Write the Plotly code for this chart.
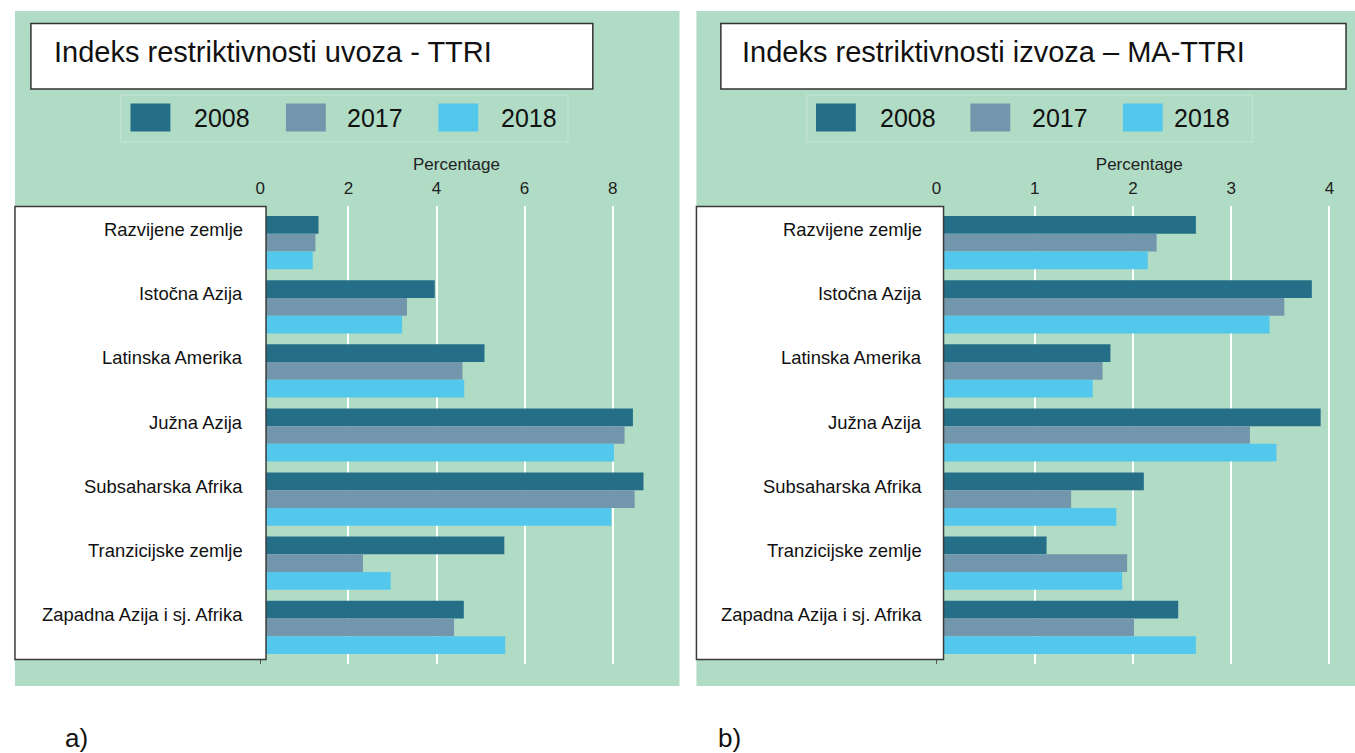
import plotly.graph_objects as go

W, H = 1355, 753

categories = ["Razvijene zemlje", "Istočna Azija", "Latinska Amerika", "Južna Azija",
              "Subsaharska Afrika", "Tranzicijske zemlje", "Zapadna Azija i sj. Afrika"]
years = ["2008", "2017", "2018"]
colors = ["#246e87", "#7296ab", "#54c8ec"]

ttri_2008 = [1.32, 3.96, 5.09, 8.46, 8.70, 5.54, 4.62]
ttri_2017 = [1.25, 3.33, 4.59, 8.27, 8.50, 2.33, 4.40]
ttri_2018 = [1.19, 3.22, 4.63, 8.03, 7.97, 2.96, 5.56]

mattri_2008 = [2.64, 3.82, 1.77, 3.91, 2.11, 1.12, 2.46]
mattri_2017 = [2.24, 3.54, 1.69, 3.19, 1.37, 1.94, 2.01]
mattri_2018 = [2.15, 3.39, 1.59, 3.46, 1.83, 1.89, 2.64]

ttri_ticks = [0, 2, 4, 6, 8]
mattri_ticks = [0, 1, 2, 3, 4]

title_a = "Indeks restriktivnosti uvoza - TTRI"
title_b = "Indeks restriktivnosti izvoza – MA-TTRI"
axis_title = "Percentage"
panel_labels = ["a)", "b)"]

FONT = "Arial, Liberation Sans, sans-serif"
GREEN = "#b0dbc5"


def px(x):
    return x / W


def py(y):
    return 1 - y / H


fig = go.Figure()

left_series = [ttri_2008, ttri_2017, ttri_2018]
right_series = [mattri_2008, mattri_2017, mattri_2018]
for vals, name, col in zip(left_series, years, colors):
    fig.add_trace(go.Bar(y=categories, x=vals, name=name, orientation="h",
                         marker=dict(color=col, line=dict(width=0)),
                         xaxis="x", yaxis="y", showlegend=False))
for vals, name, col in zip(right_series, years, colors):
    fig.add_trace(go.Bar(y=categories, x=vals, name=name, orientation="h",
                         marker=dict(color=col, line=dict(width=0)),
                         xaxis="x2", yaxis="y2", showlegend=False))

ydom = [py(664), py(206)]
yrange = [len(categories) - 1 + 0.572, -0.572]

common_x = dict(side="top", showgrid=True, gridcolor="white", gridwidth=2,
                zeroline=True, zerolinecolor="#555555", zerolinewidth=1,
                showline=False, ticks="outside", ticklen=4, tickcolor="rgba(0,0,0,0)",
                tickfont=dict(size=17, color="#222222", family=FONT),
                title=dict(text=axis_title, font=dict(size=17, color="#222222", family=FONT),
                           standoff=4))
common_y = dict(type="category", categoryorder="array", categoryarray=categories,
                range=yrange, showticklabels=False, showgrid=False, zeroline=False,
                showline=False, ticks="", domain=ydom)

fig.update_layout(
    width=W, height=H,
    margin=dict(l=0, r=0, t=0, b=0),
    paper_bgcolor="white",
    plot_bgcolor="rgba(0,0,0,0)",
    barmode="group", bargap=0.17, bargroupgap=0,
    showlegend=False,
    font=dict(family=FONT, color="#222222"),
    xaxis=dict(domain=[px(256.3), px(650)], range=[0, (650 - 256.3) / 44.2],
               tickvals=ttri_ticks, anchor="y", **common_x),
    yaxis=dict(anchor="x", **common_y),
    xaxis2=dict(domain=[px(935), px(1342)], range=[0, (1342 - 935) / 98.6],
                tickvals=mattri_ticks, anchor="y2", **common_x),
    yaxis2=dict(anchor="x2", **common_y),
)

shapes = []
annotations = []

panels = [
    dict(bg=(10, 677), title=title_a, tbox=(26, 590), ttx=47, legbox=(116, 565),
         sw=[126, 282, 435], tx=[188, 341, 496], lbox=(10, 262), lab_x=241,
         yref="y", plab=(58, panel_labels[0])),
    dict(bg=(694, 1355), title=title_b, tbox=(718.5, 1346), ttx=738, legbox=(805, 1252),
         sw=[814, 969, 1122], tx=[876, 1029, 1171], lbox=(694, 942), lab_x=922,
         yref="y2", plab=(714, panel_labels[1])),
]

for p in panels:
    shapes.append(dict(type="rect", xref="paper", yref="paper",
                       x0=px(p["bg"][0]), x1=px(p["bg"][1]), y0=py(686), y1=py(11),
                       fillcolor=GREEN, line=dict(width=0), layer="below"))
    shapes.append(dict(type="rect", xref="paper", yref="paper",
                       x0=px(p["tbox"][0]), x1=px(p["tbox"][1]), y0=py(89), y1=py(23.5),
                       fillcolor="white", line=dict(color="#333333", width=1.5), layer="above"))
    annotations.append(dict(text=p["title"], xref="paper", yref="paper",
                            x=px(p["ttx"]), y=py(52), xanchor="left", yanchor="middle",
                            showarrow=False, font=dict(size=29, family=FONT, color="#111111")))
    shapes.append(dict(type="rect", xref="paper", yref="paper",
                       x0=px(p["legbox"][0]), x1=px(p["legbox"][1]), y0=py(142), y1=py(95),
                       fillcolor="rgba(0,0,0,0)", line=dict(color="#c0e2d1", width=1.5),
                       layer="below"))
    for sx, tx, yr, col in zip(p["sw"], p["tx"], years, colors):
        shapes.append(dict(type="rect", xref="paper", yref="paper",
                           x0=px(sx), x1=px(sx + 40), y0=py(131.5), y1=py(103.5),
                           fillcolor=col, line=dict(width=0), layer="above"))
        annotations.append(dict(text=yr, xref="paper", yref="paper",
                                x=px(tx), y=py(118), xanchor="left", yanchor="middle",
                                showarrow=False, font=dict(size=25, family=FONT, color="#111111")))
    shapes.append(dict(type="rect", xref="paper", yref="paper",
                       x0=px(p["lbox"][0]), x1=px(p["lbox"][1]), y0=py(659.5), y1=py(206.5),
                       fillcolor="white", line=dict(color="#3a3a3a", width=1.5), layer="above"))
    for i, cat in enumerate(categories):
        annotations.append(dict(text=cat, xref="paper", yref=p["yref"],
                                x=px(p["lab_x"]), y=i, yshift=13, xanchor="right",
                                yanchor="middle", showarrow=False,
                                font=dict(size=18.4, family=FONT, color="#111111")))
    annotations.append(dict(text=p["plab"][1], xref="paper", yref="paper",
                            x=px(p["plab"][0]), y=py(738), xanchor="left", yanchor="middle",
                            showarrow=False, font=dict(size=26, family=FONT, color="#111111")))

fig.update_layout(shapes=shapes, annotations=annotations)
fig.write_html("out.html",
               config={"displayModeBar": False},
               post_script="document.body.style.margin='0px';document.body.style.overflow='hidden';")
